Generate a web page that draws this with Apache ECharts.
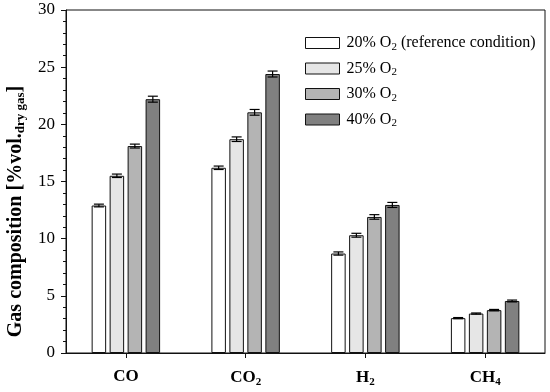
<!DOCTYPE html>
<html><head><meta charset="utf-8">
<script src="https://cdn.jsdelivr.net/npm/echarts@6/dist/echarts.min.js"></script>
<style>html,body{margin:0;padding:0;background:#fff}#c{width:550px;height:392px}</style>
</head><body><div id="c"></div>
<script>
var categories = ['CO', 'CO2', 'H2', 'CH4'];
var seriesNames = ['20% O2 (reference condition)', '25% O2', '30% O2', '40% O2'];
var o2_20 = [12.9, 16.2, 8.7, 3.05];
var o2_25 = [15.5, 18.7, 10.3, 3.45];
var o2_30 = [18.1, 21.05, 11.9, 3.75];
var o2_40 = [22.2, 24.4, 12.95, 4.55];
var err_20 = [0.12, 0.15, 0.14, 0.05];
var err_25 = [0.15, 0.2, 0.17, 0.05];
var err_30 = [0.17, 0.25, 0.2, 0.06];
var err_40 = [0.26, 0.26, 0.22, 0.08];
var yTicks = [0, 5, 10, 15, 20, 25, 30];

var values = [o2_20, o2_25, o2_30, o2_40];
var errors = [err_20, err_25, err_30, err_40];
var colors = ['#ffffff', '#e6e6e6', '#b4b4b4', '#808080'];
var FONT = '"Liberation Serif", "Times New Roman", serif';
var BW = 14.5, GAP = '24%';

function subify(s) { return s.replace(/O2/g, 'O{sub|2}').replace(/H2/g, 'H{sub|2}').replace(/H4/g, 'H{sub|4}'); }

var series = [];
values.forEach(function (v, i) {
  series.push({
    name: seriesNames[i], type: 'bar', data: v, barWidth: BW, barGap: GAP,
    itemStyle: { color: colors[i], borderColor: '#111', borderWidth: 1 },
    z: 2
  });
});
values.forEach(function (v, i) {
  series.push({
    type: 'custom', z: 5, silent: true,
    data: v.map(function (val, j) { return [j, val, errors[i][j]]; }),
    renderItem: function (params, api) {
      var layout = api.barLayout({ barWidth: BW, barGap: GAP, count: 4 });
      var x = api.value(0), y = api.value(1), e = api.value(2);
      var hi = api.coord([x, y + e]), lo = api.coord([x, y - e]);
      var cx = hi[0] + layout[i].offsetCenter;
      var hw = 5;
      var st = { stroke: '#000', lineWidth: 1.2 };
      return { type: 'group', children: [
        { type: 'line', shape: { x1: cx, y1: hi[1], x2: cx, y2: lo[1] }, style: st },
        { type: 'line', shape: { x1: cx - hw, y1: hi[1], x2: cx + hw, y2: hi[1] }, style: st },
        { type: 'line', shape: { x1: cx - hw, y1: lo[1], x2: cx + hw, y2: lo[1] }, style: st }
      ]};
    }
  });
});

var chart = echarts.init(document.getElementById('c'));
chart.setOption({
  animation: false,
  backgroundColor: '#fff',
  textStyle: { fontFamily: FONT, color: '#000' },
  grid: { left: 66, right: 5, top: 10, bottom: 39, containLabel: false, outerBoundsMode: 'none',
    show: true, borderColor: '#111', borderWidth: 1, backgroundColor: 'transparent' },
  legend: {
    orient: 'vertical', left: 300, top: 30, itemWidth: 34, itemHeight: 11, itemGap: 8,
    icon: 'rect',
    itemStyle: { borderColor: '#111', borderWidth: 1 },
    data: seriesNames,
    formatter: function (n) { return subify(n); },
    textStyle: { fontFamily: FONT, fontSize: 16, color: '#000', padding: [0, 0, 0, 2],
      rich: { sub: { fontFamily: FONT, fontSize: 11, padding: [8, 0, 0, 0], verticalAlign: 'bottom' } } }
  },
  xAxis: {
    type: 'category', data: categories,
    axisLine: { lineStyle: { color: '#111', width: 1 } },
    axisTick: { show: true, alignWithLabel: true, length: 5, lineStyle: { color: '#111' } },
    axisLabel: {
      margin: 15, fontFamily: FONT, fontSize: 17, fontWeight: 'bold', color: '#000',
      formatter: function (v) { return subify(v); },
      rich: { sub: { fontFamily: FONT, fontSize: 11, fontWeight: 'bold', padding: [9, 0, 0, 0], verticalAlign: 'bottom' } }
    },
    splitLine: { show: false }
  },
  yAxis: {
    type: 'value', min: yTicks[0], max: yTicks[yTicks.length - 1], interval: 5,
    name: '{b|Gas composition [%vol.}{s|dry gas}{b|]}',
    nameLocation: 'middle', nameGap: 39,
    nameTextStyle: { padding: [0, 60, 0, 0],
      rich: {
        b: { fontFamily: FONT, fontSize: 20, fontWeight: 'bold', color: '#000' },
        s: { fontFamily: FONT, fontSize: 13, fontWeight: 'bold', color: '#000', padding: [9, 0, 0, 0], verticalAlign: 'bottom' }
      } },
    axisLine: { show: true, lineStyle: { color: '#111', width: 1 } },
    axisTick: { show: true, length: 5, lineStyle: { color: '#111' } },
    minorTick: { show: true, splitNumber: 5, length: 3, lineStyle: { color: '#111' } },
    axisLabel: { fontFamily: FONT, fontSize: 17, color: '#000', margin: 11 },
    splitLine: { show: false }
  },
  series: series
});
</script></body></html>
